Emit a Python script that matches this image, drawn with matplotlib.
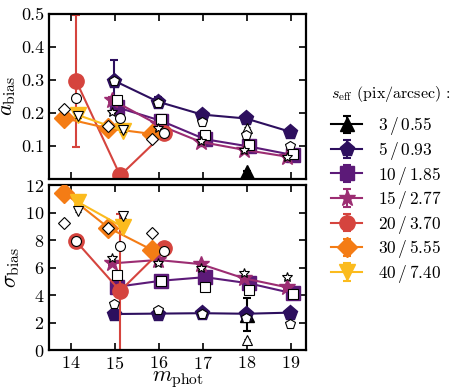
import matplotlib
matplotlib.use("Agg")
import matplotlib.pyplot as plt
import numpy as np

plt.rcParams['font.family'] = 'serif'
plt.rcParams['font.serif'] = ['cmr10', 'DejaVu Serif']
plt.rcParams['mathtext.fontset'] = 'cm'
plt.rcParams['axes.formatter.use_mathtext'] = True
plt.rcParams['font.size'] = 10

labels = ["3 / 0.55", "5 / 0.93", "10 / 1.85", "15 / 2.77", "20 / 3.70", "30 / 5.55", "40 / 7.40"]
colors = ["#000000", "#2d0f5e", "#5c1a78", "#9c2d72", "#d5443e", "#f47c15", "#fbbb1e"]
markers = ["^", "p", "s", "*", "o", "D", "v"]
msizes = [10, 11, 10, 12, 11, 10, 11]

# m_phot positions per series
m_3 = [18.0]
m_5 = [14.98, 15.98, 16.98, 17.98, 18.98]
m_10 = [15.05, 16.05, 17.05, 18.05, 19.05]
m_15 = [14.93, 15.97, 16.95, 17.93, 18.92]
m_20 = [14.12, 15.12, 16.12]
m_30 = [13.85, 14.85, 15.85]
m_40 = [14.17, 15.18]

# a_bias (filled) and errors
a_3 = [0.02];  ae_3 = [0.005]
a_5 = [0.298, 0.234, 0.195, 0.183, 0.143];  ae_5 = [0.062, 0.015, 0.006, 0.005, 0.004]
a_10 = [0.217, 0.176, 0.120, 0.098, 0.072]; ae_10 = [0.01, 0.006, 0.005, 0.004, 0.003]
a_15 = [0.240, 0.165, 0.112, 0.088, 0.067]; ae_15 = [0.008, 0.005, 0.004, 0.003, 0.003]
a_20 = [0.297, 0.01, 0.138];  ae_20 = [0.2, 0.01, 0.008]
a_30 = [0.184, 0.153, 0.136]; ae_30 = [0.006, 0.005, 0.005]
a_40 = [0.193, 0.146];        ae_40 = [0.006, 0.005]

# sigma_bias (filled) and errors
s_3 = [2.55];  se_3 = [1.2]
s_5 = [2.62, 2.65, 2.68, 2.64, 2.72];  se_5 = [0.15, 0.1, 0.08, 0.08, 0.08]
s_10 = [4.6, 5.04, 5.3, 4.85, 4.12];  se_10 = [0.2, 0.12, 0.1, 0.1, 0.1]
s_15 = [6.3, 6.55, 6.25, 5.22, 4.56]; se_15 = [0.15, 0.12, 0.1, 0.1, 0.1]
s_20 = [7.9, 4.3, 7.45];  se_20 = [0.2, 5.6, 0.2]
s_30 = [11.44, 8.9, 7.27]; se_30 = [0.2, 0.15, 0.15]
s_40 = [10.75, 8.95];      se_40 = [0.2, 0.15]

# open (comparison) markers
ao_3 = [0.153]
ao_5 = [0.298, 0.231, 0.173, 0.133, 0.099]
ao_10 = [0.239, 0.180, 0.133, 0.104, 0.075]
ao_15 = [0.203, 0.153, 0.115, 0.087, 0.065]
ao_20 = [0.244, 0.184, 0.139]
ao_30 = [0.211, 0.159, 0.120]
ao_40 = [0.190, 0.147]

so_3 = [0.7]
so_5 = [3.35, 2.88, 2.65, 2.3, 1.9]
so_10 = [5.45, 5.04, 4.6, 4.36, 4.1]
so_15 = [6.72, 6.35, 5.94, 5.58, 5.29]
so_20 = [7.9, 7.56, 7.22]
so_30 = [9.21, 8.85, 8.48]
so_40 = [10.13, 9.72]

M = [m_3, m_5, m_10, m_15, m_20, m_30, m_40]
A = [a_3, a_5, a_10, a_15, a_20, a_30, a_40]
AE = [ae_3, ae_5, ae_10, ae_15, ae_20, ae_30, ae_40]
S = [s_3, s_5, s_10, s_15, s_20, s_30, s_40]
SE = [se_3, se_5, se_10, se_15, se_20, se_30, se_40]
AO = [ao_3, ao_5, ao_10, ao_15, ao_20, ao_30, ao_40]
SO = [so_3, so_5, so_10, so_15, so_20, so_30, so_40]

fig = plt.figure(figsize=(4.57, 3.92), dpi=100)
ax1 = fig.add_axes([0.107, 0.544, 0.563, 0.420])
ax2 = fig.add_axes([0.107, 0.107, 0.563, 0.421])

handles = []
for i in range(7):
    for ax, Y, YE, YO, oe in ((ax1, A, AE, AO, 0.004), (ax2, S, SE, SO, 0.12)):
        h = ax.errorbar(M[i], Y[i], yerr=YE[i], color=colors[i], marker=markers[i],
                        ms=msizes[i], lw=1.5, capsize=3, elinewidth=1.5, capthick=1.5,
                        mec=colors[i], zorder=2 + i * 0.1)
        ax.errorbar(M[i], YO[i], yerr=[oe] * len(YO[i]), fmt=markers[i], ms=msizes[i] * 0.65,
                    mfc='white', mec='black', mew=0.8, color='black', ecolor='black',
                    elinewidth=0.8, capsize=2.5, capthick=0.8, zorder=5)
        if ax is ax1:
            handles.append(h)

for ax in (ax1, ax2):
    ax.set_xlim(13.5, 19.35)
    ax.set_xticks([14, 15, 16, 17, 18, 19])
    ax.tick_params(direction='in', top=True, right=True, length=5, width=1.2, labelsize=13)
    for sp in ax.spines.values():
        sp.set_linewidth(1.6)

ax1.set_ylim(0, 0.5)
ax1.set_yticks([0.0, 0.1, 0.2, 0.3, 0.4, 0.5])
ax1.set_yticklabels(["", "0.1", "0.2", "0.3", "0.4", "0.5"])
ax1.tick_params(labelbottom=False)
ax1.set_ylabel(r"$a_{\rm bias}$", fontsize=16, labelpad=2)

ax2.set_ylim(0, 12)
ax2.set_yticks([0, 2, 4, 6, 8, 10, 12])
ax2.set_xlabel(r"$m_{\rm phot}$", fontsize=16, labelpad=-2)
ax2.set_ylabel(r"$\sigma_{\rm bias}$", fontsize=16, labelpad=2)

leg = fig.legend(handles, [r"$%s$" % l.replace(" / ", r"\,/\,") for l in labels],
                 loc='upper left', bbox_to_anchor=(0.69, 0.825), frameon=False,
                 fontsize=12.5, title=r"$s_{\rm eff}$ (pix/arcsec) :", title_fontsize=11.5,
                 handlelength=1.8, labelspacing=0.15, handletextpad=0.9)
leg._legend_box.align = "left"
leg._legend_box.sep = 8

fig.savefig("out.png", dpi=100)
